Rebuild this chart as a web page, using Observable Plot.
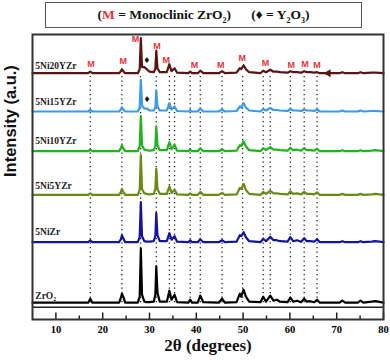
<!DOCTYPE html>
<html><head><meta charset="utf-8">
<script src="https://cdn.jsdelivr.net/npm/d3@7"></script>
<script src="https://cdn.jsdelivr.net/npm/@observablehq/plot@0.6"></script>
<style>
body{margin:0;background:#fff;}
#wrap{position:relative;width:390px;height:360px;overflow:hidden;}
#legend{position:absolute;left:45px;top:2px;width:315px;height:24px;border:1px solid #555;
 font-family:"Liberation Serif","Times New Roman",serif;font-weight:bold;font-size:13.5px;
 display:flex;align-items:center;justify-content:center;white-space:pre;color:#111;}
#legend .sub{font-size:8px;position:relative;top:4px;}
#legend .m{color:#e8303a;}
#chart{position:absolute;left:0;top:0;}
</style></head>
<body><div id="wrap"><div id="chart"></div>
<div id="legend"><span>(<span class="m">M</span> = Monoclinic ZrO<span class="sub">2</span>)</span><span>      </span><span>(♦ = Y<span class="sub">2</span>O<span class="sub">3</span>)</span></div></div>
<script>
const twoTheta = [5.0,16.9,17.35,17.8, 23.5,23.9,24.1,24.4,24.8, 27.5,27.9,28.15,28.4,28.9, 29.4,30.0,
 30.9,31.25,31.45,31.7,32.2, 33.7,34.25,34.7,35.35,35.9, 38.3,38.7,39.1, 40.3,40.85,41.5, 44.8,45.5,46.1,
 48.6,49.3,49.6,50.1,50.6,51.3, 53.7,54.3,54.9,55.8,56.5, 57.2,57.9,59.5,60.1,60.7,
 61.5,62.4,63.05,63.6,64.3,65.2,65.8,66.4, 70.6,71.2,71.8,74.5,75.1,75.7,77.5,78.2,80];

const seriesNames = ["ZrO₂","5NiZr","5Ni5YZr","5Ni10YZr","5Ni15YZr","5Ni20YZr"];
const seriesColors = ["#000000","#1414a0","#6a8a14","#1eb41e","#3c9ae8","#5a1414"];
const seriesOffsets = [4.5, 65, 112.3, 156, 195.7, 234];

const iZrO2 = [0,0,4,0, 0,5,9,6,0, 0,6,54,8,1, 0.5,0.5, 1,8,36,10,1, 1,12,3,8,0.5, 0,3,0, 0,7,0.5, 0,4,0, 0.5,9,6,13,6,1, 0.5,6,1,7,2, 3,1,0.5,5,1, 2,0.5,4,1,1.5,0.5,3,0, 0,2,0,0,2,0,1,1.5,0];
const i5NiZr = [0,0,2,0, 0,3,7,4,0, 0,5,40,6,1, 0.5,0.5, 1,6,29,7,1, 1,9,2.5,6,0.5, 0,2,0, 0,3,0, 0,2,0, 0.5,7,6,10,5,1, 0,3.5,1,5.5,2, 2,1,0.5,5,1, 2,0.5,4,1,1,0.5,3,0, 0,1,0,0,1,0,0.5,1,0];
const i5Ni5YZr = [0,0,1.5,0, 0,3,6,3,0, 0,5,39.5,6,1.5, 1,0.5, 1,6,26,6,1, 1,8.5,2,5,0.5, 0,1.5,0, 0,3,0, 0,2,0, 0.5,7,6,11,5,1, 0,3,1,4,1.5, 1.5,1,0.5,3.5,1, 1.5,0.5,3,1,1,0.5,2.5,0, 0,1,0,0,1,0,0.5,1,0];
const i5Ni10YZr = [0,0,1.5,0, 0,3,6,3,0, 0,5,35,6,1.5, 1,0.5, 1,5,24,6,1, 1,9,2,6.4,0.5, 0,1.5,0, 0,3,0, 0,2,0, 0.5,6,5,10,5,1, 0,3,1,4,1.5, 1.5,1,0.5,3.5,1, 1.5,0.5,3,1,1,0.5,2.5,0, 0,1,0,0,1,0,0.5,1,0];
const i5Ni15YZr = [0,0,1.5,0, 0,2,4.3,2,0, 0,4,31.7,6,3, 3,1, 1,4,21,5,1, 1,8.3,2,5,0.5, 0,1.5,0, 0,3,0, 0,2,0, 0.5,5,4,8.3,4,1, 0,2.5,1,3.5,1.5, 1.5,1,0.5,2.5,1, 1,0.5,2,1,1,0.5,2,0, 0,1,0,0,1,0,0.5,0.5,0];
const i5Ni20YZr = [0,0,1.5,0, 0,2,4,2,0, 0,4,35,6,6, 4,1.5, 1,4,22.5,5,1, 1,9,2,5,0.5, 0,1.5,0, 0,2.5,0, 0,2,0, 0.5,5,4,8,4,1, 0,2.5,1,3.5,1.5, 1.5,1,0.5,2,1, 1,0.5,2,1,1,0.5,1,0, 0,1,0,0,1,0,0.5,0.5,0];
const intensities = [iZrO2, i5NiZr, i5Ni5YZr, i5Ni10YZr, i5Ni15YZr, i5Ni20YZr];

// label positions (2θ, stacked intensity)
const seriesLabelY = [11.7, 75, 121, 166, 205, 241.7];
const monoclinicPeaks = [17.35,24.1,28.1,31.45,34.25,35.35,38.7,40.85,45.5,49.9,54.3,55.8,60.1,63.05,65.8];
const mLabels = [[17.5,243.4],[24.4,246],[27.0,267.7],[31.6,261],[33.6,247.4],[39.6,242.4],[45.2,241.7],[49.8,249],[54.8,243.7],[60.3,242],[63.2,242.7],[65.8,242]];
const y2o3Marks = [[29.4,247.7],[29.5,208.4]];
const arrowMark = [[68.2,234]];
const majorTicks = [10,20,30,40,50,60,70,80];
const minorTicks = [15,25,35,45,55,65,75];

const rows = [];
seriesNames.forEach((s,k)=>twoTheta.forEach((t,i)=>rows.push({t, v: seriesOffsets[k]+intensities[k][i], s})));

const yBottom = -12.3, yTop = 272.7;
const serif = "Liberation Serif, Times New Roman, serif";

const chart = Plot.plot({
  width: 390, height: 360,
  marginTop: 34, marginBottom: 41, marginLeft: 32, marginRight: 7,
  x: {domain: [5, 80]},
  y: {domain: [yBottom, yTop], axis: null},
  color: {domain: seriesNames, range: seriesColors},
  marks: [
    Plot.ruleX(monoclinicPeaks, {y1: seriesOffsets[0], y2: seriesOffsets[5]-3, stroke: "#222", strokeWidth: 1.3, strokeDasharray: "1.3,3.2"}),
    Plot.line(rows, {x: "t", y: "v", z: "s", stroke: "s", strokeWidth: 2.2, curve: "linear"}),
    Plot.ruleY([0], {stroke: "#222", strokeWidth: 1.5}),
    Plot.ruleX(majorTicks, {y1: yBottom, y2: yBottom + 6.5, stroke: "#222", strokeWidth: 1.5}),
    Plot.ruleX(minorTicks, {y1: yBottom, y2: yBottom + 3.5, stroke: "#222", strokeWidth: 1.5}),
    Plot.axisX({ticks: majorTicks, tickSize: 0, tickPadding: 6, fontSize: 10.5, fontWeight: "bold", fontFamily: serif,
      label: null}),
    Plot.text(["2θ (degrees)"], {frameAnchor: "bottom", dy: 31, fontSize: 17, fontWeight: "bold", fontFamily: serif, fill: "#111"}),
    Plot.text(["Intensity (a.u.)"], {frameAnchor: "left", rotate: -90, dx: -22, fontSize: 16.5, fontWeight: "bold", fontFamily: "Liberation Sans, Arial, sans-serif", fill: "#111"}),
    Plot.text(seriesNames, {x: 5.6, y: (d,i)=>seriesLabelY[i], text: d=>d, textAnchor: "start", fontSize: 9.5, fontWeight: "bold", fontFamily: serif, fill: "#222"}),
    Plot.text(mLabels, {x: d=>d[0], y: d=>d[1], text: ()=>"M", fontSize: 9, fontWeight: "bold", fontFamily: "Liberation Sans, Arial, sans-serif", fill: "#e8303a"}),
    Plot.text(y2o3Marks, {x: d=>d[0], y: d=>d[1], text: ()=>"♦", fontSize: 10, fill: "#111"}),
    Plot.dot(arrowMark, {x: d=>d[0], y: d=>d[1], symbol: "triangle", rotate: -90, r: 3, fill: "#5a1414"}),
    Plot.frame({stroke: "#333", strokeWidth: 2})
  ]
});
document.getElementById("chart").appendChild(chart);
</script></body></html>
